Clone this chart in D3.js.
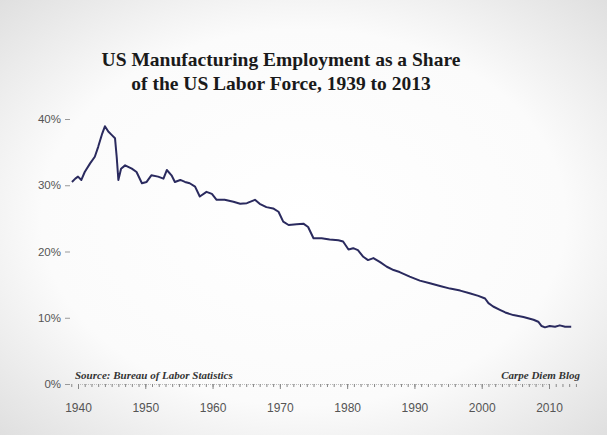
<!DOCTYPE html>
<html><head><meta charset="utf-8">
<script src="https://cdn.jsdelivr.net/npm/d3@7"></script>
<style>html,body{margin:0;padding:0;background:#fff;}svg{display:block;}</style>
</head><body>
<svg id="chart" width="607" height="435"></svg>
<script>
const titleLines = ["US Manufacturing Employment as a Share", "of the US Labor Force, 1939 to 2013"];
const sourceText = "Source: Bureau of Labor Statistics";
const creditText = "Carpe Diem Blog";
const yTicks = [0, 10, 20, 30, 40];
const xTicks = [1940, 1950, 1960, 1970, 1980, 1990, 2000, 2010];
const years = [1939.1,1939.6,1940.0,1940.5,1941.0,1941.8,1942.5,1943.0,1943.6,1944.0,1944.5,1945.0,1945.5,1945.75,1946.0,1946.4,1947.0,1948.0,1948.7,1949.5,1950.2,1950.9,1951.9,1952.7,1953.2,1953.9,1954.4,1955.2,1955.9,1956.6,1957.4,1958.1,1959.1,1959.9,1960.6,1961.8,1963.1,1964.1,1965.1,1966.3,1967.0,1968.0,1969.0,1969.8,1970.5,1971.3,1972.5,1973.5,1974.2,1975.0,1976.2,1977.4,1978.7,1979.4,1980.2,1980.9,1981.6,1982.4,1983.1,1983.9,1984.9,1985.9,1986.9,1987.8,1989.3,1990.8,1992.3,1993.8,1995.3,1996.8,1998.2,1999.5,2000.5,2001.0,2001.7,2002.7,2003.5,2004.7,2006.2,2007.7,2008.4,2008.9,2009.4,2010.1,2010.9,2011.6,2012.4,2013.3];
const shares = [30.5,31.0,31.3,30.8,32.0,33.3,34.3,35.8,37.8,38.9,38.1,37.6,37.1,34.3,30.8,32.5,33.0,32.5,32.0,30.3,30.5,31.5,31.3,31.0,32.3,31.5,30.5,30.8,30.5,30.3,29.8,28.3,29.0,28.7,27.8,27.8,27.5,27.2,27.3,27.8,27.2,26.7,26.5,26.0,24.5,24.0,24.1,24.2,23.7,22.0,22.0,21.8,21.7,21.5,20.3,20.5,20.2,19.2,18.7,19.0,18.4,17.7,17.2,16.9,16.2,15.6,15.2,14.8,14.4,14.1,13.7,13.3,12.9,12.2,11.7,11.2,10.8,10.4,10.1,9.7,9.4,8.75,8.55,8.75,8.65,8.85,8.65,8.65];

const svg = d3.select("#chart");
const W = 607, H = 435;
const defs = svg.append("defs");
const rg = defs.append("radialGradient").attr("id","bg").attr("cx","50%").attr("cy","50%").attr("r","72%");
rg.append("stop").attr("offset","0%").attr("stop-color","#ffffff");
rg.append("stop").attr("offset","60%").attr("stop-color","#fbfbfb");
rg.append("stop").attr("offset","100%").attr("stop-color","#dedede");
svg.append("rect").attr("width",W).attr("height",H).attr("fill","url(#bg)");
const blur = defs.append("filter").attr("id","soft").attr("x","-10%").attr("y","-10%").attr("width","120%").attr("height","120%");
blur.append("feGaussianBlur").attr("stdDeviation",0.35);

const x = d3.scaleLinear().domain([1940, 2010]).range([78, 549]);
const y = d3.scaleLinear().domain([0, 40]).range([384, 119]);

// title
svg.append("g").selectAll("text").data(titleLines).join("text")
  .attr("x", 281).attr("y", (d,i)=>66+i*24)
  .attr("text-anchor","middle")
  .attr("font-family","'Liberation Serif','DejaVu Serif',serif")
  .attr("font-weight","bold").attr("font-size",19.5).attr("fill","#1a1a1a")
  .text(d=>d);

// y axis
const yAxis = d3.axisLeft(y).tickValues(yTicks).tickFormat(d=>d+"%").tickSize(5).tickPadding(4);
const gy = svg.append("g").attr("transform","translate(70,0)").call(yAxis);
gy.select(".domain").remove();
gy.selectAll("line").attr("stroke","#999");
gy.selectAll("text").attr("font-family","'Liberation Sans',Arial,sans-serif").attr("font-size",11.5).attr("fill","#555");

// x axis
const yearTicks = d3.range(1939, 2015);
const xAxisMinor = d3.axisBottom(x).tickValues(yearTicks).tickFormat("").tickSize(3);
const gxm = svg.append("g").attr("transform","translate(0,384)").call(xAxisMinor);
gxm.select(".domain").attr("stroke","#bbb").attr("stroke-dasharray","1,1");
gxm.selectAll("line").attr("stroke","#888");
const xAxis = d3.axisBottom(x).tickValues(xTicks).tickFormat(d3.format("d")).tickSize(5).tickPadding(14);
const gx = svg.append("g").attr("transform","translate(0,384)").call(xAxis);
gx.select(".domain").remove();
gx.selectAll("line").attr("stroke","#888");
gx.selectAll("text").attr("font-family","'Liberation Sans',Arial,sans-serif").attr("font-size",12).attr("fill","#555");

// line
const data = years.map((yr,i)=>({yr, v:shares[i]}));
svg.append("path").datum(data)
  .attr("fill","none").attr("stroke","#2b2b5e").attr("stroke-width",2).attr("stroke-linejoin","round")
  .attr("filter","url(#soft)")
  .attr("d", d3.line().x(d=>x(d.yr)).y(d=>y(d.v)).curve(d3.curveLinear));

// notes
svg.append("text").attr("x",75).attr("y",379)
  .attr("font-family","'Liberation Serif',serif").attr("font-style","italic").attr("font-weight","bold")
  .attr("font-size",11).attr("fill","#333").text(sourceText);
svg.append("text").attr("x",580).attr("y",379).attr("text-anchor","end")
  .attr("font-family","'Liberation Serif',serif").attr("font-style","italic").attr("font-weight","bold")
  .attr("font-size",11).attr("fill","#333").text(creditText);
</script>
</body></html>
